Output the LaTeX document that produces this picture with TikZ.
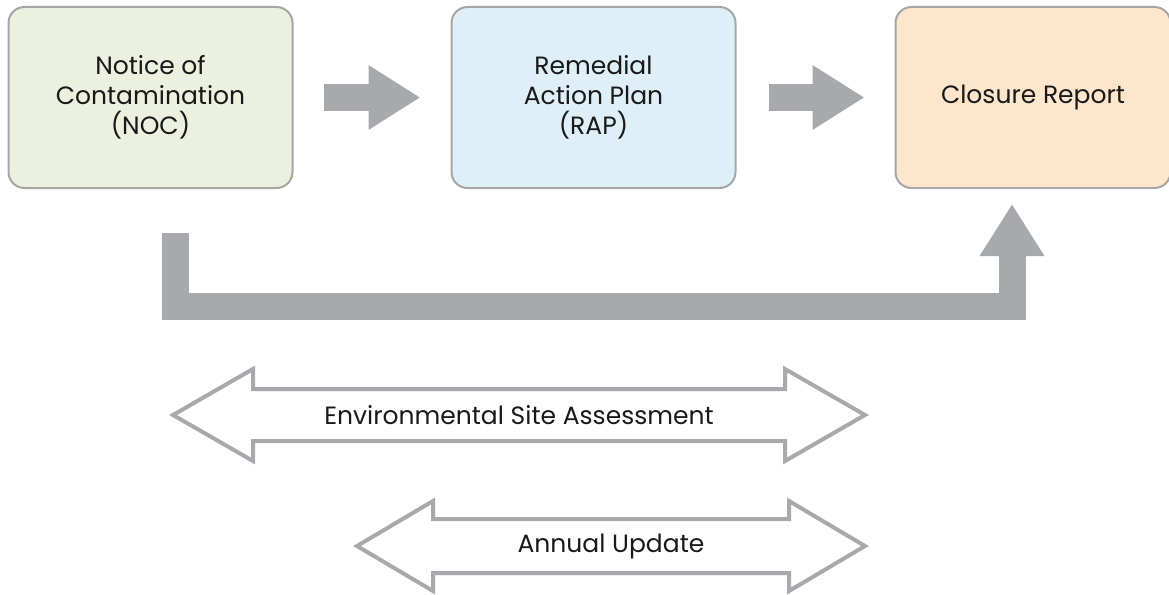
\documentclass[tikz,border=0pt]{standalone}
\usepackage{fontspec}
\setmainfont{Poppins}
\usetikzlibrary{positioning,arrows.meta}
\definecolor{boxline}{HTML}{A6A6A6}
\definecolor{arrowgray}{HTML}{A7A9AC}
\definecolor{greenfill}{HTML}{EBF1DE}
\definecolor{bluefill}{HTML}{DEEFF7}
\definecolor{orangefill}{HTML}{FDE6CC}
\tikzset{
  stagebox/.style={draw=boxline, line width=2pt, rounded corners=16pt,
    minimum width=284pt, minimum height=181pt, align=center,
    font=\fontsize{25}{30}\selectfont, text=black!90},
  blockarrow/.style={draw=arrowgray, line width=27pt, line join=miter,
    -{Triangle[length=52pt,width=61pt]}},
  spanline/.style={draw=arrowgray, line width=4pt, line join=miter},
  spantext/.style={font=\fontsize{25}{30}\selectfont, text=black!90}
}
\begin{document}
\begin{tikzpicture}[x=1pt,y=-1pt]
  \useasboundingbox (0,0) rectangle (1169,594);
  % stages
  \node[stagebox, fill=greenfill] (noc) at (150.5,97.5) {Notice of\\Contamination\\(NOC)};
  \node[stagebox, fill=bluefill, right=157pt of noc] (rap) {Remedial\\Action Plan\\(RAP)};
  \node[stagebox, fill=orangefill, minimum width=275pt, right=158pt of rap] (closure) {Closure Report};
  % flow between stages
  \draw[blockarrow] ([xshift=30pt]noc.east) -- ([xshift=-30pt]rap.west);
  \draw[blockarrow] ([xshift=32pt]rap.east) -- ([xshift=-30pt]closure.west);
  \draw[blockarrow] ([xshift=25pt,yshift=-44pt]noc.south) -- ++(0,73)
    -| ([xshift=-21pt,yshift=-15pt]closure.south);
  % time spans
  \node[spantext] (esa) at (519,415) {Environmental Site Assessment};
  \draw[spanline] (esa.center) ++(-346,0) -- ++(80,-46) -- ++(0,20) -- ++(532,0)
    -- ++(0,-20) -- ++(80,46) -- ++(-80,46) -- ++(0,-20) -- ++(-532,0)
    -- ++(0,20) -- cycle;
  \node[spantext] (annual) at (611,546) {Annual Update};
  \draw[spanline] (annual.center) ++(-254,0) -- ++(76,-45) -- ++(0,18) -- ++(356,0)
    -- ++(0,-18) -- ++(76,45) -- ++(-76,45) -- ++(0,-18) -- ++(-356,0)
    -- ++(0,18) -- cycle;
\end{tikzpicture}
\end{document}
